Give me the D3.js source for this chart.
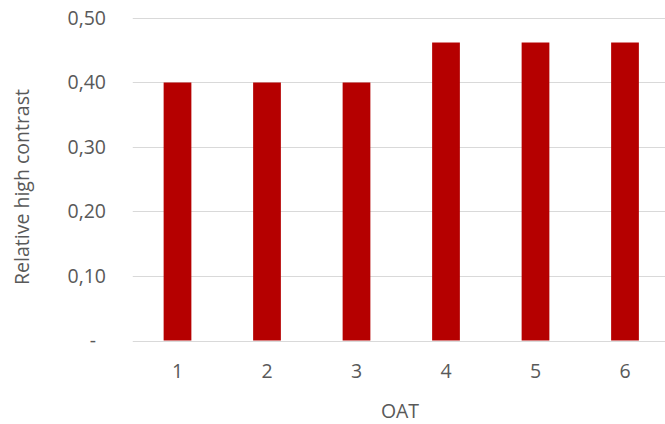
<!DOCTYPE html>
<html>
<head>
<meta charset="utf-8">
<script src="https://cdn.jsdelivr.net/npm/d3@7"></script>
<style>
  html, body { margin: 0; padding: 0; background: #fff; }
  svg text { font-family: "Open Sans", "Noto Sans", sans-serif; fill: #595959; }
</style>
</head>
<body>
<svg id="chart" width="665" height="424"></svg>
<script>
// Categories along the OAT axis and the relative high contrast per category
const categories = ["1", "2", "3", "4", "5", "6"];
const values = [0.40, 0.40, 0.40, 0.462, 0.462, 0.462];
const yTicks = [0, 0.1, 0.2, 0.3, 0.4, 0.5];
const yTickLabels = ["-", "0,10", "0,20", "0,30", "0,40", "0,50"];

const svg = d3.select("#chart");
const plot = { left: 132.75, right: 669.75, top: 18, bottom: 340.5 };

const x = d3.scaleBand()
  .domain(categories)
  .range([plot.left, plot.right])
  .paddingInner(0.69)
  .paddingOuter(0.345);

const y = d3.scaleLinear()
  .domain([0, 0.5])
  .range([plot.bottom, plot.top]);

// Horizontal gridlines
svg.append("g")
  .selectAll("line")
  .data(yTicks)
  .join("line")
  .attr("x1", plot.left)
  .attr("x2", plot.right)
  .attr("y1", d => Math.round(y(d)) + 0.5)
  .attr("y2", d => Math.round(y(d)) + 0.5)
  .attr("stroke", "#d9d9d9")
  .attr("stroke-width", 1);

// Bars
svg.append("g")
  .selectAll("rect")
  .data(values)
  .join("rect")
  .attr("x", (d, i) => x(categories[i]))
  .attr("width", x.bandwidth())
  .attr("y", d => y(d))
  .attr("height", d => y(0) - y(d))
  .attr("fill", "#b50000");

// Y axis labels
svg.append("g")
  .selectAll("text")
  .data(yTicks)
  .join("text")
  .attr("x", (d, i) => i === 0 ? 96 : 106)
  .attr("y", d => y(d))
  .attr("dy", "0.35em")
  .attr("text-anchor", "end")
  .style("font-size", "19.5px")
  .text((d, i) => yTickLabels[i]);

// X axis labels
svg.append("g")
  .selectAll("text")
  .data(categories)
  .join("text")
  .attr("x", d => x(d) + x.bandwidth() / 2)
  .attr("y", 371)
  .attr("dy", "0.35em")
  .attr("text-anchor", "middle")
  .style("font-size", "19.5px")
  .text(d => d);

// Axis titles
svg.append("text")
  .attr("x", 400)
  .attr("y", 411)
  .attr("dy", "0.35em")
  .attr("text-anchor", "middle")
  .style("font-size", "19.5px")
  .text("OAT");

svg.append("text")
  .attr("transform", "translate(22,187) rotate(-90)")
  .attr("dy", "0.35em")
  .attr("text-anchor", "middle")
  .style("font-size", "19.5px")
  .text("Relative high contrast");
</script>
</body>
</html>
